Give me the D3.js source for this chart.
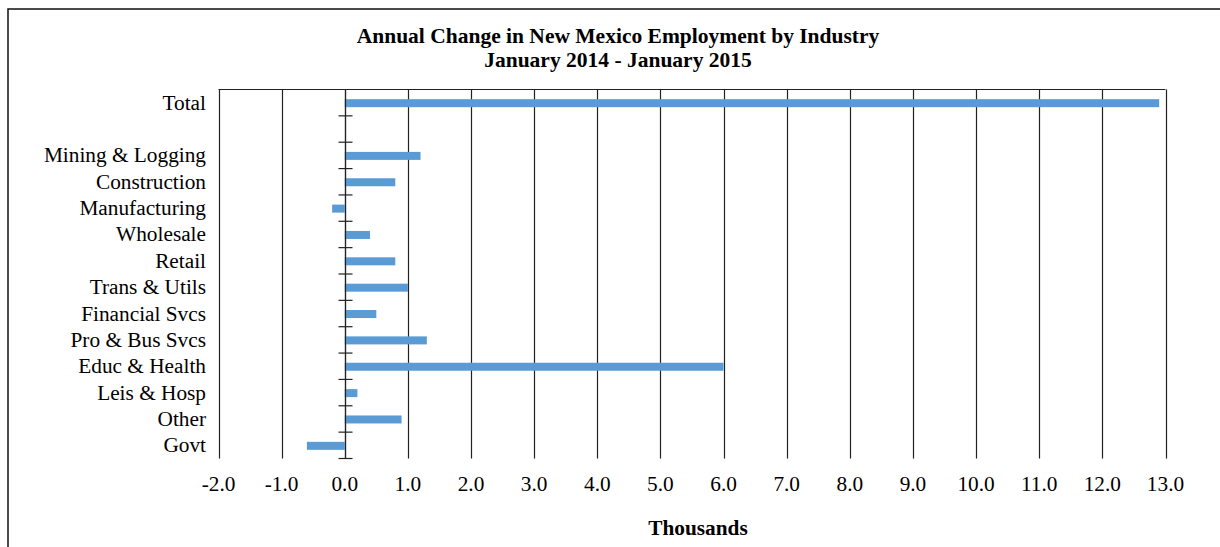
<!DOCTYPE html>
<html>
<head>
<meta charset="utf-8">
<script src="https://cdn.jsdelivr.net/npm/d3@7"></script>
<style>
body { margin:0; background:#fff; }
svg text { font-family:"Liberation Serif","Times New Roman",serif; fill:#000; }
.title { font-weight:bold; font-size:21.5px; }
.catLabel { font-size:21.3px; }
.tickText { font-size:21.3px; }
.axisTitle { font-weight:bold; font-size:21.3px; }
.gridLine { stroke:#222; stroke-width:1.2; }
.zeroLine { stroke:#222; stroke-width:1.2; }
</style>
</head>
<body>
<div id="chart"></div>
<script>
var categories = ["Total", "", "Mining & Logging", "Construction", "Manufacturing", "Wholesale",
  "Retail", "Trans & Utils", "Financial Svcs", "Pro & Bus Svcs", "Educ & Health",
  "Leis & Hosp", "Other", "Govt"]
var changes = [12.9, null, 1.2, 0.8, -0.2, 0.4, 0.8, 1.0, 0.5, 1.3, 6.0, 0.2, 0.9, -0.6]
var xTicks = [-2, -1, 0, 1, 2, 3, 4, 5, 6, 7, 8, 9, 10, 11, 12, 13]
var titleLines = ["Annual Change in New Mexico Employment by Industry", "January 2014 - January 2015"]
var axisTitle = "Thousands"

var W = 1220, H = 547
var plot = { left: 218.5, right: 1165.5, top: 89.5, bottom: 458.5 }

var svg = d3.select("#chart").append("svg")
  .attr("width", W)
  .attr("height", H)

/* outer frame, cropped on right and bottom */
svg.append("rect")
  .attr("x", 8).attr("y", 9)
  .attr("width", W + 20).attr("height", H + 20)
  .attr("fill", "none")
  .attr("stroke", "#111")
  .attr("stroke-width", 1.5)

svg.selectAll(".title")
  .data(titleLines)
  .enter()
  .append("text")
  .attr("class", "title")
  .attr("x", 618)
  .attr("y", function(d, i) { return 43 + i * 23.5 })
  .attr("text-anchor", "middle")
  .text(function(d) { return d })

var xScale = d3.scaleLinear()
  .domain([-2, 13])
  .range([plot.left, plot.right])

var yScale = d3.scaleBand()
  .domain(d3.range(categories.length))
  .range([plot.top, plot.bottom])

/* vertical grid */
svg.selectAll(".gridLine")
  .data(xTicks)
  .enter()
  .append("line")
  .attr("class", "gridLine")
  .attr("x1", function(d) { return Math.round(xScale(d)) + 0.5 })
  .attr("x2", function(d) { return Math.round(xScale(d)) + 0.5 })
  .attr("y1", plot.top)
  .attr("y2", plot.bottom)

/* top border */
svg.append("line")
  .attr("class", "gridLine")
  .attr("x1", plot.left).attr("x2", plot.right)
  .attr("y1", plot.top).attr("y2", plot.top)

svg.selectAll(".tickText")
  .data(xTicks)
  .enter()
  .append("text")
  .attr("class", "tickText")
  .attr("x", function(d) { return xScale(d) })
  .attr("y", 491)
  .attr("text-anchor", "middle")
  .text(function(d) { return d.toFixed(1) })

/* bars */
var barH = 8
var barData = changes
  .map(function(v, i) { return { value: v, index: i } })
  .filter(function(d) { return d.value !== null })

svg.selectAll(".bar")
  .data(barData)
  .enter()
  .append("rect")
  .attr("class", "bar")
  .attr("x", function(d) { return xScale(Math.min(0, d.value)) })
  .attr("width", function(d) { return Math.abs(xScale(d.value) - xScale(0)) })
  .attr("y", function(d) { return yScale(d.index) + yScale.bandwidth() / 2 - barH / 2 + 0.5 })
  .attr("height", barH)
  .attr("fill", "#5B9BD5")

/* category axis at zero */
var x0 = Math.round(xScale(0)) + 0.5
svg.append("line")
  .attr("class", "zeroLine")
  .attr("x1", x0).attr("x2", x0)
  .attr("y1", plot.top).attr("y2", plot.bottom)

var boundaries = d3.range(1, categories.length + 1)
svg.selectAll(".catTick")
  .data(boundaries)
  .enter()
  .append("line")
  .attr("class", "zeroLine catTick")
  .attr("x1", x0 - 7).attr("x2", x0 + 7)
  .attr("y1", function(d) { return yScale.step() * d + plot.top })
  .attr("y2", function(d) { return yScale.step() * d + plot.top })

svg.selectAll(".catLabel")
  .data(categories)
  .enter()
  .append("text")
  .attr("class", "catLabel")
  .attr("x", 206)
  .attr("y", function(d, i) { return yScale(i) + yScale.bandwidth() / 2 + 7 })
  .attr("text-anchor", "end")
  .text(function(d) { return d })

svg.append("text")
  .attr("class", "axisTitle")
  .attr("x", 698)
  .attr("y", 535)
  .attr("text-anchor", "middle")
  .text(axisTitle)
</script>
</body>
</html>
